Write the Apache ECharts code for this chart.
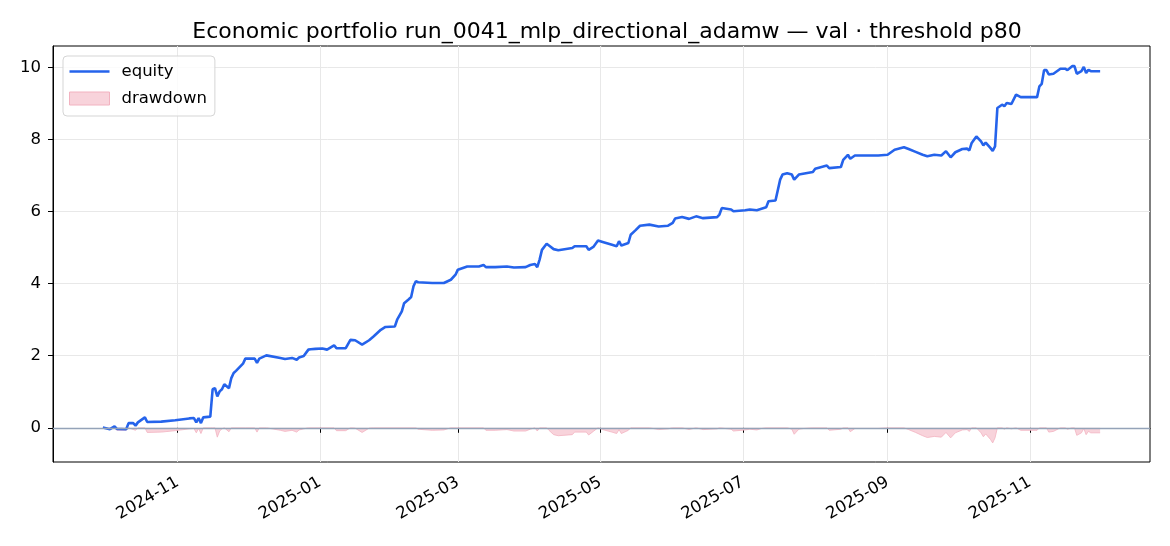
<!DOCTYPE html>
<html>
<head>
<meta charset="utf-8">
<script src="https://cdn.jsdelivr.net/npm/echarts@6/dist/echarts.min.js"></script>
<style>
html,body{margin:0;padding:0;background:#fff;}
#chart{width:1170px;height:546px;}
</style>
</head>
<body>
<div id="chart"></div>
<script>
// ---- data ----
const startDate = [2024, 8, 30]; // 2024-09-30, day index 0
const equityDays = [0,3,5,6,10,11,13,14,15,18,19,25,31,37,39,40,41,42,43,46,47,48,49,50,51,52,54,55,56,57,60,61,65,66,67,70,76,78,81,83,84,86,88,89,91,94,96,99,100,104,106,108,111,114,116,119,121,125,126,128,129,131,132,133,134,135,141,146,149,151,152,156,161,163,164,168,173,176,181,183,185,186,187,188,190,191,193,195,201,202,207,208,210,212,214,218,220,221,222,225,226,228,230,234,238,242,244,245,248,251,254,257,263,264,265,269,270,275,277,280,282,284,285,288,290,291,293,295,296,298,304,305,310,311,316,317,319,320,322,327,332,336,339,343,345,348,351,353,356,359,361,363,365,368,370,371,372,374,376,377,378,380,381,382,383,385,386,387,389,391,393,400,401,402,403,404,405,407,410,412,413,415,416,417,419,420,421,422,423,427];
const equityValues = [0.01,-0.04,0.04,-0.03,-0.04,0.13,0.13,0.06,0.15,0.29,0.16,0.17,0.21,0.26,0.27,0.15,0.27,0.13,0.29,0.31,1.07,1.10,0.87,1.01,1.07,1.21,1.10,1.38,1.52,1.58,1.78,1.92,1.92,1.80,1.92,2.01,1.94,1.91,1.94,1.89,1.95,1.99,2.17,2.18,2.19,2.20,2.17,2.29,2.21,2.21,2.44,2.43,2.31,2.43,2.54,2.72,2.80,2.81,3.00,3.23,3.46,3.57,3.63,3.93,4.07,4.04,4.02,4.02,4.11,4.25,4.39,4.48,4.48,4.52,4.46,4.46,4.48,4.45,4.46,4.52,4.55,4.46,4.67,4.94,5.11,5.06,4.96,4.93,4.99,5.04,5.04,4.94,5.02,5.20,5.16,5.08,5.04,5.18,5.06,5.13,5.36,5.48,5.61,5.64,5.59,5.61,5.69,5.81,5.85,5.80,5.87,5.82,5.85,5.92,6.10,6.06,6.01,6.04,6.06,6.04,6.08,6.12,6.29,6.31,6.89,7.03,7.07,7.03,6.89,7.03,7.10,7.19,7.28,7.21,7.24,7.44,7.58,7.47,7.56,7.56,7.56,7.58,7.72,7.79,7.74,7.66,7.58,7.54,7.58,7.56,7.68,7.51,7.65,7.74,7.75,7.70,7.91,8.09,7.95,7.84,7.92,7.77,7.69,7.81,8.88,8.97,8.93,9.02,8.99,9.25,9.18,9.18,9.48,9.55,9.93,9.93,9.81,9.83,9.97,9.97,9.93,10.04,10.04,9.83,9.90,10.02,9.85,9.94,9.90,9.90];
const drawdownDays = [0,3,5,6,10,11,14,15,18,19,25,31,37,39,40,41,42,43,46,47,48,49,50,51,52,54,55,61,65,66,67,70,76,78,81,83,84,86,88,99,100,104,106,108,111,114,116,134,135,141,146,149,163,164,168,173,176,181,183,185,186,187,190,191,193,195,201,202,207,208,210,212,214,218,220,221,222,225,226,230,234,238,242,244,248,251,254,257,263,264,269,270,275,277,280,282,284,293,295,296,298,300,304,310,311,316,317,319,320,322,327,332,336,343,345,348,351,353,356,359,361,363,365,368,370,371,372,374,376,377,378,380,381,382,383,385,386,387,389,391,393,400,401,404,405,407,410,412,413,415,416,417,419,420,421,422,423,427];
const drawdownValues = [0,-0.05,0,-0.07,-0.07,0,-0.07,0,0,-0.13,-0.12,-0.08,-0.03,-0.02,-0.14,-0.02,-0.16,0,0,0,0,-0.26,-0.09,-0.03,0,-0.11,0,0,0,-0.12,0,0,-0.07,-0.10,-0.07,-0.12,-0.06,-0.03,0,0,-0.08,-0.08,0,-0.01,-0.13,-0.01,0,0,-0.04,-0.07,-0.06,0,0,-0.07,-0.07,-0.05,-0.09,-0.09,-0.04,0,-0.09,0,0,-0.07,-0.19,-0.22,-0.19,-0.12,-0.12,-0.20,-0.10,0,-0.05,-0.12,-0.16,-0.05,-0.16,-0.07,0,0,0,-0.05,-0.03,0,0,-0.05,0,-0.05,-0.03,0,-0.04,-0.09,-0.06,-0.04,-0.06,-0.02,0,0,-0.04,-0.18,-0.04,-0.02,0,0,-0.07,-0.04,0,0,-0.11,-0.02,-0.02,-0.02,0,0,-0.05,-0.13,-0.22,-0.27,-0.24,-0.26,-0.13,-0.28,-0.14,-0.06,-0.05,-0.10,0,0,-0.14,-0.25,-0.17,-0.32,-0.42,-0.28,0,0,-0.04,0,-0.03,0,-0.07,-0.07,0,0,-0.12,-0.10,0,0,-0.04,0,0,-0.21,-0.14,-0.02,-0.19,-0.10,-0.14,-0.14];
const xTickLabels = ['2024-11','2025-01','2025-03','2025-05','2025-07','2025-09','2025-11'];
const yTickValues = [0, 2, 4, 6, 8, 10];
const titleText = 'Economic portfolio run_0041_mlp_directional_adamw \u2014 val \u00b7 threshold p80';

// ---- build ----
const DAY = 86400000;
const t0 = Date.UTC(startDate[0], startDate[1], startDate[2]);
const toTs = d => t0 + d * DAY;
const equityData = equityDays.map((d, i) => [toTs(d), equityValues[i]]);
const drawdownData = drawdownDays.map((d, i) => [toTs(d), drawdownValues[i]]);
const xTickValues = xTickLabels.map(s => { const p = s.split('-'); return Date.UTC(+p[0], +p[1] - 1, 1); });
const lastDay = equityDays[equityDays.length - 1];
const pad = lastDay * 0.05;
const xMin = toTs(-pad), xMax = toTs(lastDay + pad);
const yMin = -0.95, yMax = 10.6;
const FONT = 'DejaVu Sans';
const fmt = v => { const d = new Date(v); return d.getUTCFullYear() + '-' + String(d.getUTCMonth() + 1).padStart(2, '0'); };

const chart = echarts.init(document.getElementById('chart'), null, { renderer: 'canvas' });
chart.setOption({
  animation: false,
  backgroundColor: '#ffffff',
  title: {
    text: titleText, left: 602, top: 16, textAlign: 'center',
    textStyle: { fontFamily: FONT, fontSize: 22, fontWeight: 'normal', color: '#000' }
  },
  grid: { left: 53, right: 20, top: 46, bottom: 84, show: true, borderColor: '#000', borderWidth: 1, backgroundColor: 'transparent' },
  legend: {
    left: 63, top: 56, orient: 'vertical', symbolKeepAspect: true,
    padding: [5, 8, 7, 6], itemGap: 6, itemWidth: 40, itemHeight: 13,
    backgroundColor: 'rgba(255,255,255,0.8)', borderColor: '#d5d5d5', borderWidth: 1, borderRadius: 4,
    textStyle: { fontFamily: FONT, fontSize: 16.5, color: '#000', lineHeight: 21, padding: [0, 0, 0, 7] },
    data: [
      { name: 'equity', icon: 'path://M0,0L40,0L40,2.6L0,2.6Z', itemStyle: { color: '#2563eb' } },
      { name: 'drawdown', icon: 'rect', itemStyle: { color: '#f8d3db', borderColor: '#f2b2c0', borderWidth: 1 } }
    ]
  },
  xAxis: {
    type: 'value', min: xMin, max: xMax,
    axisLine: { show: true, lineStyle: { color: '#000', width: 1 } },
    axisTick: { show: true, length: 5, inside: false, customValues: xTickValues, lineStyle: { color: '#000', width: 1 } },
    axisLabel: { customValues: xTickValues, formatter: fmt, rotate: 30, margin: 19, fontFamily: FONT, fontSize: 16.5, color: '#000' },
    splitLine: { show: true, lineStyle: { color: '#e8e8e8', width: 1 } }
  },
  yAxis: {
    type: 'value', min: yMin, max: yMax,
    axisLine: { show: true, lineStyle: { color: '#000', width: 1 } },
    axisTick: { show: true, length: 5, customValues: yTickValues, lineStyle: { color: '#000', width: 1 } },
    axisLabel: { customValues: yTickValues, margin: 12, fontFamily: FONT, fontSize: 16.5, color: '#000' },
    splitLine: { show: true, lineStyle: { color: '#e8e8e8', width: 1 } }
  },
  series: [
    {
      name: 'drawdown', type: 'line', data: drawdownData, symbol: 'none', z: 2,
      lineStyle: { color: '#f2b2c0', width: 0.8 },
      itemStyle: { color: '#f8d3db' },
      areaStyle: { color: '#f8d3db', opacity: 1, origin: 0 },
      markLine: {
        silent: true, symbol: ['none', 'none'], label: { show: false },
        lineStyle: { color: '#94a3b8', width: 1.3, type: 'solid' },
        data: [{ yAxis: 0 }]
      }
    },
    {
      name: 'equity', type: 'line', data: equityData, symbol: 'none', z: 3,
      lineStyle: { color: '#2563eb', width: 2.6 },
      itemStyle: { color: '#2563eb' }
    }
  ]
});
</script>
</body>
</html>
